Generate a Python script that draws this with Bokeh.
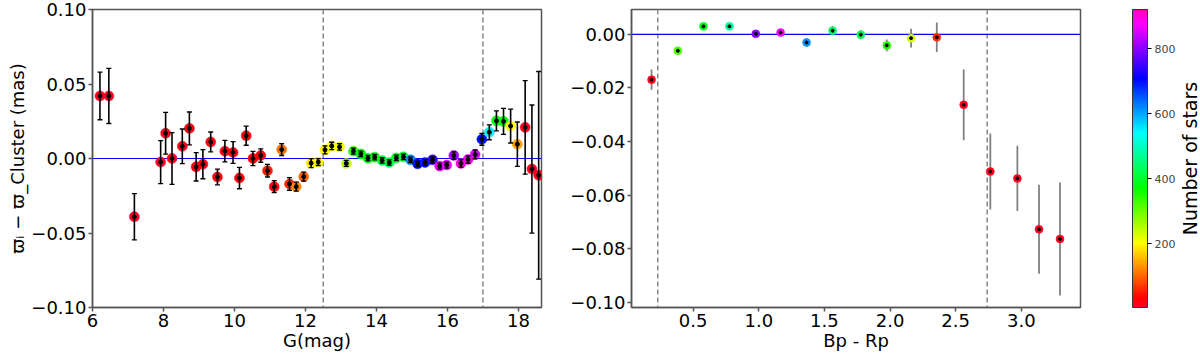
import numpy as np
from bokeh.plotting import figure
from bokeh.models import (ColumnDataSource, Range1d, LinearColorMapper, ColorBar, FixedTicker,
                          Whisker, TeeHead, Span, CustomJSTickFormatter)
from bokeh.layouts import row
from bokeh.transform import transform
from bokeh.embed import file_html
from bokeh.resources import INLINE

# ---------------- data: left panel (G magnitude bins) ----------------
g_mag = [6.21, 6.46, 7.18, 7.92, 8.06, 8.24, 8.53, 8.73, 8.92, 9.11,
         9.33, 9.52, 9.73, 9.96, 10.14, 10.33, 10.52, 10.74, 10.93, 11.12,
         11.33, 11.55, 11.74, 11.95, 12.16, 12.36, 12.55, 12.74, 12.96, 13.15,
         13.35, 13.56, 13.76, 13.95, 14.16, 14.36, 14.56, 14.76, 14.96, 15.16,
         15.37, 15.58, 15.78, 15.98, 16.18, 16.38, 16.58, 16.78, 16.97, 17.18,
         17.38, 17.58, 17.78, 17.97, 18.19, 18.38, 18.57]
g_dplx = [0.042, 0.042, -0.0391, -0.0024, 0.0169, 0.0, 0.0082, 0.0202, -0.0056, -0.0038,
          0.0111, -0.0124, 0.0049, 0.0040, -0.0131, 0.0153, 0.0, 0.0020, -0.0082, -0.0189,
          0.0060, -0.0171, -0.0189, -0.0122, -0.0031, -0.0024, 0.0058, 0.0084, 0.0078, -0.0033,
          0.0049, 0.0031, 0.0002, 0.0009, -0.0013, -0.0027, 0.0004, 0.0011, -0.0009, -0.0036,
          -0.0027, -0.0009, -0.0051, -0.0044, 0.0020, -0.0033, -0.0007, 0.0027, 0.0129, 0.0176,
          0.0253, 0.0249, 0.0218, 0.0096, 0.0209, -0.0071, -0.0113]
g_err = [0.016, 0.0185, 0.0155, 0.0144, 0.014, 0.0173, 0.0116, 0.011, 0.0095, 0.0098,
         0.0067, 0.0053, 0.0072, 0.0073, 0.0072, 0.0064, 0.0048, 0.0045, 0.0042, 0.004,
         0.004, 0.0042, 0.003, 0.003, 0.003, 0.0023, 0.0027, 0.0025, 0.0022, 0.002,
         0.002, 0.0018, 0.0018, 0.0018, 0.0018, 0.0018, 0.0018, 0.0018, 0.0018, 0.0018,
         0.002, 0.002, 0.002, 0.002, 0.0025, 0.0025, 0.0025, 0.003, 0.004, 0.005,
         0.0067, 0.0087, 0.0114, 0.0149, 0.0314, 0.043, 0.0697]
g_nstars = [10, 10, 12, 15, 15, 18, 18, 20, 20, 22,
            22, 25, 25, 25, 28, 28, 30, 32, 55, 25,
            110, 60, 125, 100, 190, 200, 198, 205, 210, 250,
            340, 370, 385, 380, 420, 430, 400, 410, 620, 700,
            690, 740, 880, 860, 820, 900, 870, 850, 700, 550,
            390, 370, 200, 140, 15, 12, 10]

# ---------------- data: right panel (Bp - Rp colour bins) ----------------
bprp = [0.183, 0.383, 0.578, 0.776, 0.977, 1.166, 1.364, 1.562, 1.777, 1.975,
        2.160, 2.356, 2.561, 2.764, 2.970, 3.135, 3.295]
c_dplx = [-0.0169, -0.0061, 0.0030, 0.0030, 0.0002, 0.0007, -0.0030, 0.0014, -0.0001, -0.0041,
          -0.0014, -0.0011, -0.0263, -0.0512, -0.0538, -0.0728, -0.0764]
c_err = [0.0038, 0.0008, 0.0006, 0.0006, 0.0006, 0.0006, 0.0016, 0.0017, 0.0017, 0.0022,
         0.0035, 0.0055, 0.0132, 0.0142, 0.0122, 0.0166, 0.0211]
c_nstars = [15, 320, 390, 470, 800, 870, 610, 440, 430, 350,
            230, 60, 15, 12, 12, 10, 10]

g_cuts = [12.5, 17.0]
c_cuts = [0.23, 2.74]
n_low, n_high = 5, 920

# ---------------- gist_rainbow-like palette ----------------
anch_pos = [0.000, 0.030, 0.215, 0.400, 0.586, 0.770, 0.954, 1.000]
anch_rgb = [(1, 0, 0.16), (1, 0, 0), (1, 1, 0), (0, 1, 0), (0, 1, 1), (0, 0, 1), (1, 0, 1), (1, 0, 0.75)]
pal = []
for t in np.linspace(0, 1, 256):
    r = np.interp(t, anch_pos, [c[0] for c in anch_rgb])
    g = np.interp(t, anch_pos, [c[1] for c in anch_rgb])
    b = np.interp(t, anch_pos, [c[2] for c in anch_rgb])
    pal.append("#%02x%02x%02x" % (int(round(r * 255)), int(round(g * 255)), int(round(b * 255))))
mapper = LinearColorMapper(palette=pal, low=n_low, high=n_high)

FONT = "DejaVu Sans"
FS = "18px"
AX_COLOR = "#555555"


def fmt(dec):
    return CustomJSTickFormatter(code="""
        var s = Math.abs(tick).toFixed(%d);
        if (tick < -1e-9) { s = '\\u2212' + s; }
        return s;
    """ % dec)


def style(p):
    p.outline_line_color = AX_COLOR
    p.outline_line_width = 1.5
    p.grid.visible = False
    p.background_fill_color = "white"
    p.border_fill_color = "white"
    for ax in p.xaxis + p.yaxis:
        ax.axis_line_color = AX_COLOR
        ax.axis_line_width = 1.5
        ax.major_tick_line_color = AX_COLOR
        ax.major_tick_line_width = 1.5
        ax.major_tick_out = 4
        ax.major_tick_in = 0
        ax.minor_tick_line_color = None
        ax.major_label_text_font = FONT
        ax.major_label_text_font_size = FS
        ax.major_label_text_color = "black"
        ax.axis_label_text_font = FONT
        ax.axis_label_text_font_size = FS
        ax.axis_label_text_font_style = "normal"
        ax.axis_label_text_color = "black"
        ax.major_label_standoff = 2
        ax.axis_label_standoff = 0


H = 355
TOP = 9
BOT = 48
FH = H - TOP - BOT

# ---------------- left figure ----------------
W1 = 546
src1 = ColumnDataSource(dict(x=g_mag, y=g_dplx, n=g_nstars,
                             lo=[a - b for a, b in zip(g_dplx, g_err)],
                             hi=[a + b for a, b in zip(g_dplx, g_err)]))
p1 = figure(width=W1, height=H, x_range=Range1d(6, 18.65), y_range=Range1d(-0.1, 0.1),
            output_backend="svg", toolbar_location=None,
            min_border_left=92, min_border_right=5, min_border_top=TOP, min_border_bottom=BOT)
p1.xaxis.ticker = FixedTicker(ticks=[6, 8, 10, 12, 14, 16, 18])
p1.yaxis.ticker = FixedTicker(ticks=[-0.10, -0.05, 0.0, 0.05, 0.10])
p1.xaxis.formatter = fmt(0)
p1.yaxis.formatter = fmt(2)
p1.xaxis.axis_label = "G(mag)"
p1.yaxis.axis_label = "ϖᵢ − ϖ_Cluster (mas)"
style(p1)

for c in g_cuts:
    p1.add_layout(Span(location=c, dimension="height", line_color="#888888",
                       line_width=1.5, line_dash="5 3", level="underlay"))
p1.add_layout(Span(location=0, dimension="width", line_color="blue", line_width=1.2, level="underlay"))
p1.scatter("x", "y", source=src1, size=10, fill_color=transform("n", mapper),
           line_color=transform("n", mapper), line_alpha=0.5)
w1 = Whisker(base="x", lower="lo", upper="hi", source=src1, line_color="black", line_width=1.6,
             upper_head=TeeHead(size=5, line_color="black", line_width=1.3),
             lower_head=TeeHead(size=5, line_color="black", line_width=1.3), level="overlay")
p1.add_layout(w1)
p1.scatter("x", "y", source=src1, size=4, fill_color="black", line_color="black")

# ---------------- right figure ----------------
W2 = 630
FW2 = 449
y2_lo, y2_hi = -0.102, 0.0093
src2 = ColumnDataSource(dict(x=bprp, y=c_dplx, n=c_nstars,
                             lo=[a - b for a, b in zip(c_dplx, c_err)],
                             hi=[a + b for a, b in zip(c_dplx, c_err)]))
p2 = figure(width=W2, height=H, x_range=Range1d(0.03, 3.451), y_range=Range1d(y2_lo, y2_hi),
            output_backend="svg", toolbar_location=None,
            min_border_left=85, min_border_right=W2 - 85 - FW2, min_border_top=TOP, min_border_bottom=BOT)
p2.xaxis.ticker = FixedTicker(ticks=[0.5, 1.0, 1.5, 2.0, 2.5, 3.0])
p2.yaxis.ticker = FixedTicker(ticks=[-0.10, -0.08, -0.06, -0.04, -0.02, 0.0])
p2.xaxis.formatter = fmt(1)
p2.yaxis.formatter = fmt(2)
p2.xaxis.axis_label = "Bp - Rp"
style(p2)

for c in c_cuts:
    p2.add_layout(Span(location=c, dimension="height", line_color="#888888",
                       line_width=1.5, line_dash="5 3", level="underlay"))
p2.add_layout(Span(location=0, dimension="width", line_color="blue", line_width=1.2, level="underlay"))
p2.segment(x0="x", y0="lo", x1="x", y1="hi", source=src2, line_color="#808080", line_width=1.8)
p2.scatter("x", "y", source=src2, size=8, fill_color=transform("n", mapper),
           line_color=transform("n", mapper), line_alpha=0.5)
p2.scatter("x", "y", source=src2, size=3, fill_color="black", line_color="black")

cb = ColorBar(color_mapper=mapper, ticker=FixedTicker(ticks=[200, 400, 600, 800]),
              width=15, height=FH, location=(FW2 + 52, 0), margin=0, padding=0,
              major_label_text_font=FONT, major_label_text_font_size="11px",
              major_tick_out=4, major_tick_in=0, major_tick_line_color="black",
              label_standoff=3,
              bar_line_color="#333333", border_line_color=None,
              background_fill_alpha=0)
p2.add_layout(cb, "center")

# ---------------- colour-bar title (as an axis label of a narrow figure) ----------------
W3 = 1200 - W1 - W2
p3 = figure(width=W3, height=H, x_range=Range1d(0, 1), y_range=Range1d(0, 1),
            output_backend="svg", toolbar_location=None,
            min_border_left=0, min_border_right=0, min_border_top=TOP, min_border_bottom=BOT)
p3.xaxis.visible = False
p3.grid.visible = False
p3.outline_line_color = None
p3.yaxis.ticker = FixedTicker(ticks=[])
p3.yaxis.axis_line_color = None
p3.yaxis.major_tick_line_color = None
p3.yaxis.minor_tick_line_color = None
p3.yaxis.major_tick_out = 0
p3.yaxis.axis_label = "Number of stars"
p3.yaxis.axis_label_text_font = FONT
p3.yaxis.axis_label_text_font_size = "19px"
p3.yaxis.axis_label_text_font_style = "normal"
p3.yaxis.axis_label_text_color = "black"
p3.yaxis.axis_label_standoff = 0

layout = row(p1, p2, p3)
open("out.html", "w").write(file_html(layout, INLINE))
